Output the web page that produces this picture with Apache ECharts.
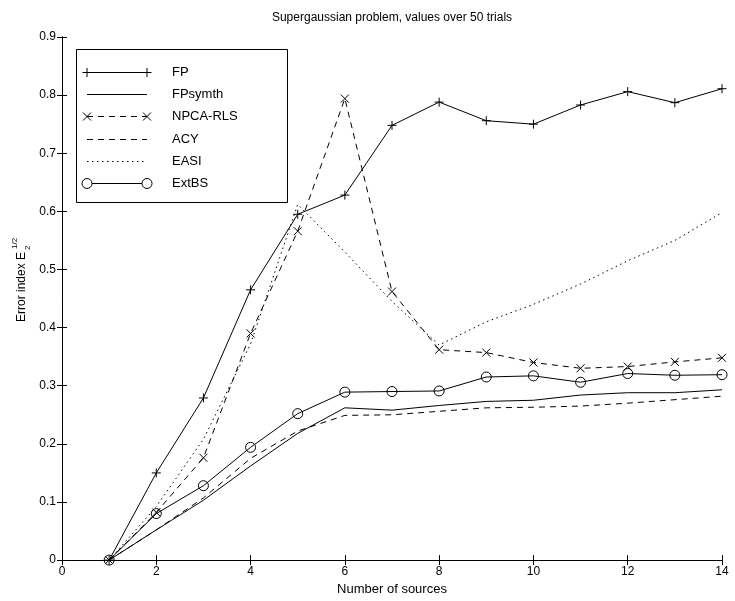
<!DOCTYPE html>
<html>
<head>
<meta charset="utf-8">
<script src="https://cdn.jsdelivr.net/npm/echarts@6/dist/echarts.min.js"></script>
<style>html,body{margin:0;padding:0;background:#fff}#c{width:735px;height:601px}</style>
</head>
<body>
<div id="c"></div>
<script>
var sources = [1,2,3,4,5,6,7,8,9,10,11,12,13,14];
var FP      = [0, 0.150, 0.279, 0.465, 0.595, 0.628, 0.748, 0.788, 0.756, 0.750, 0.783, 0.806, 0.787, 0.811];
var FPsymth = [0, 0.052, 0.103, 0.162, 0.218, 0.262, 0.258, 0.266, 0.273, 0.275, 0.284, 0.288, 0.288, 0.293];
var NPCA    = [0, 0.082, 0.176, 0.390, 0.566, 0.794, 0.462, 0.362, 0.357, 0.340, 0.330, 0.333, 0.341, 0.348];
var ACY     = [0, 0.052, 0.107, 0.175, 0.222, 0.249, 0.250, 0.256, 0.262, 0.263, 0.265, 0.270, 0.276, 0.282];
var EASI    = [0, 0.092, 0.208, 0.372, 0.612, 0.530, 0.445, 0.370, 0.410, 0.440, 0.475, 0.515, 0.550, 0.598];
var ExtBS   = [0, 0.080, 0.128, 0.194, 0.252, 0.289, 0.290, 0.291, 0.315, 0.317, 0.306, 0.321, 0.318, 0.319];
var seriesNames = ['FP','FPsymth','NPCA-RLS','ACY','EASI','ExtBS'];
var titleText = 'Supergaussian problem, values over 50 trials';
var xName = 'Number of sources';

var FONT = '"Liberation Sans", Arial, sans-serif';
var PLUS = 'path://M5,0L5,10M0,5L10,5';
var CROSS = 'path://M0,0L10,10M10,0L0,10';

function pts(arr){ return sources.map(function(x,i){ return [x, arr[i]]; }); }
function mk(name, arr, lineType, symbol, size){
  return {
    name: name, type: 'line', data: pts(arr),
    symbol: symbol || 'none', symbolSize: size || 8, showSymbol: !!symbol,
    lineStyle: {color: '#000', width: 1, type: lineType},
    itemStyle: {color: 'none', borderColor: '#000', borderWidth: 1},
    emphasis: {disabled: true}, animation: false, z: 3
  };
}

var chart = echarts.init(document.getElementById('c'), null, {renderer: 'canvas'});

var axisCommon = {
  axisLine: {show: true, lineStyle: {color: '#000', width: 1}},
  axisTick: {show: true, inside: true, length: 5, lineStyle: {color: '#000'}},
  splitLine: {show: false}
};

var legendRows = [72, 94, 116, 139, 161, 183];
var legendG = [{
  type: 'rect', shape: {x: 76.5, y: 49.5, width: 211, height: 153},
  style: {fill: '#fff', stroke: '#000', lineWidth: 1}, z: 10
}];
var lx1 = 87, lx2 = 147;
var dashes = [null, null, [6,5], [6,5], [1.5,3.5], null];
seriesNames.forEach(function(n, i){
  var y = legendRows[i] + 0.5;
  legendG.push({type: 'line', shape: {x1: lx1, y1: y, x2: lx2, y2: y},
    style: {stroke: '#000', lineWidth: 1, lineDash: dashes[i]}, z: 11});
  legendG.push({type: 'text', x: 172, y: legendRows[i], z: 11,
    style: {text: n, font: '13px ' + FONT, fill: '#000', textVerticalAlign: 'middle'}});
  [lx1, lx2].forEach(function(px){
    if (i === 0) legendG.push({type: 'polyline', shape: {points: [[px-4.5,y],[px+4.5,y]]}, style:{stroke:'#000', fill:'none'}, z: 12},
                             {type: 'polyline', shape: {points: [[px,y-4.5],[px,y+4.5]]}, style:{stroke:'#000', fill:'none'}, z: 12});
    if (i === 2) legendG.push({type: 'polyline', shape: {points: [[px-4,y-4],[px+4,y+4]]}, style:{stroke:'#000', fill:'none'}, z: 12},
                             {type: 'polyline', shape: {points: [[px+4,y-4],[px-4,y+4]]}, style:{stroke:'#000', fill:'none'}, z: 12});
    if (i === 5) legendG.push({type: 'circle', shape: {cx: px, cy: y, r: 5}, style:{stroke:'#000', fill:'#fff'}, z: 12});
  });
});

var option = {
  backgroundColor: '#fff',
  animation: false,
  textStyle: {fontFamily: FONT},
  grid: {left: 62, right: 13, top: 37, bottom: 36, containLabel: false},
  xAxis: [
    Object.assign({type: 'value', min: 0, max: 14, interval: 2, position: 'bottom',
      axisLabel: {color: '#000', fontSize: 12, fontFamily: FONT, margin: 6},
      name: xName, nameLocation: 'middle', nameGap: 21,
      nameTextStyle: {color: '#000', fontSize: 13, fontFamily: FONT}}, axisCommon),
    Object.assign({type: 'value', min: 0, max: 14, interval: 2, position: 'top',
      axisLabel: {show: false}}, axisCommon)
  ],
  yAxis: [
    Object.assign({type: 'value', min: 0, max: 0.9, interval: 0.1, position: 'left',
      axisLabel: {color: '#000', fontSize: 12, fontFamily: FONT, margin: 6,
        formatter: function(v){ return Math.abs(v) < 1e-9 ? '0' : v.toFixed(1); }}}, axisCommon),
    Object.assign({type: 'value', min: 0, max: 0.9, interval: 0.1, position: 'right',
      axisLabel: {show: false}}, axisCommon)
  ],
  series: [
    mk(seriesNames[0], FP, 'solid', PLUS, 9),
    mk(seriesNames[1], FPsymth, 'solid'),
    mk(seriesNames[2], NPCA, [6,5], CROSS, 8),
    mk(seriesNames[3], ACY, [6,5]),
    mk(seriesNames[4], EASI, [1.5,3.5]),
    mk(seriesNames[5], ExtBS, 'solid', 'circle', 10)
  ],
  graphic: [
    {type: 'text', x: 392, y: 18, style: {text: titleText, font: '12px ' + FONT, fill: '#000', textAlign: 'center', textVerticalAlign: 'middle'}},
    {type: 'group', x: 22, y: 287, rotation: Math.PI/2, children: [
      {type: 'text', x: 0, y: 0, style: {text: 'Error index E', font: '12px ' + FONT, fill: '#000', textAlign: 'center', textVerticalAlign: 'middle'}},
      {type: 'text', x: 38, y: -7, style: {text: '1/2', font: '8px ' + FONT, fill: '#000', textAlign: 'left', textVerticalAlign: 'middle'}},
      {type: 'text', x: 37, y: 6, style: {text: '2', font: '8px ' + FONT, fill: '#000', textAlign: 'left', textVerticalAlign: 'middle'}}
    ]}
  ].concat(legendG)
};
chart.setOption(option);
</script>
</body>
</html>
